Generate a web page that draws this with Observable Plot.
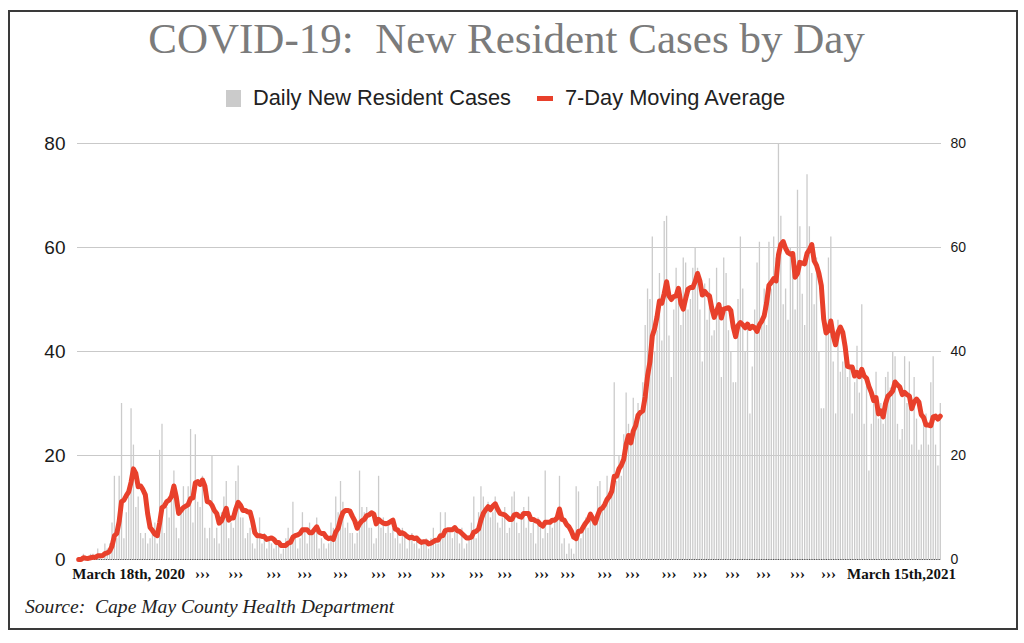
<!DOCTYPE html>
<html><head><meta charset="utf-8">
<script src="https://cdn.jsdelivr.net/npm/d3@7"></script>
<script src="https://cdn.jsdelivr.net/npm/@observablehq/plot@0.6"></script>
<style>
html,body{margin:0;padding:0;background:#fff;}
#wrap{position:relative;width:1024px;height:643px;overflow:hidden;background:#fff;}
#frame{position:absolute;left:8px;top:10px;width:1010px;height:620px;border:2px solid #3a3a3a;box-sizing:border-box;}
#title{position:absolute;left:0;top:14px;width:1013px;text-align:center;font-family:"Liberation Serif",serif;font-size:43px;color:#7b7b7b;white-space:pre;}
#legend{position:absolute;left:0;top:85px;width:1011px;display:flex;justify-content:center;align-items:center;font-family:"Liberation Sans",Arial,sans-serif;font-size:21.8px;color:#222;}
#legend .sw1{display:inline-block;width:15px;height:17px;background:#cbcbcb;margin-right:12px;}
#legend .sw2{display:inline-block;width:16px;height:5px;background:#e8402b;margin-left:26px;margin-right:12px;}
#chart{position:absolute;left:0;top:120px;}
#source{position:absolute;left:25px;top:596px;font-family:"Liberation Serif",serif;font-style:italic;font-size:19.6px;color:#222;white-space:pre;}
</style>
</head><body>
<div id="wrap">
  <div id="frame"></div>
  <div id="title">COVID-19:  New Resident Cases by Day</div>
  <div id="legend"><span class="sw1"></span><span id="l1"></span><span class="sw2"></span><span id="l2"></span></div>
  <div id="chart"></div>
  <div id="source">Source:  Cape May County Health Department</div>
</div>
<script>
// Daily new resident cases, March 18th 2020 (day 0) to March 15th 2021 (day 362)
const dailyCases = [
  0,0,1,0,0,1,1,0,2,1,
  0,3,2,3,7,16,4,16,30,4,
  9,12,29,22,10,12,5,4,5,3,
  4,6,7,3,21,26,5,10,8,12,
  17,6,4,9,14,10,14,25,7,24,
  11,10,16,6,4,6,20,4,6,3,
  9,12,15,4,7,6,15,18,8,8,
  4,5,6,3,2,4,8,3,5,2,
  4,3,2,4,3,1,2,4,6,3,
  11,5,2,4,9,6,3,7,5,6,
  8,2,4,3,2,3,7,6,12,9,
  15,11,6,7,5,5,3,5,17,10,
  9,10,6,6,3,4,16,6,8,5,
  7,5,6,4,5,3,6,5,2,4,
  5,3,4,2,3,3,4,2,4,6,
  4,3,9,4,9,5,6,4,6,5,
  3,6,2,3,4,7,12,4,9,14,
  12,9,11,8,9,12,7,6,8,10,
  5,6,12,13,7,5,9,10,6,12,
  5,7,3,8,6,4,17,5,7,6,
  8,9,16,3,4,1,3,2,1,14,
  13,4,7,8,6,9,8,7,14,15,
  10,11,16,12,14,34,15,20,16,24,
  32,26,24,31,27,30,28,34,45,52,
  50,62,40,44,55,42,65,66,43,35,
  48,56,52,45,58,57,48,50,56,60,
  56,48,38,53,46,54,43,44,56,47,
  35,58,55,44,40,34,34,50,62,52,
  40,45,28,37,48,57,61,45,52,45,
  61,52,62,58,80,66,49,52,46,60,
  59,48,71,64,51,45,74,64,55,49,
  58,40,29,29,45,58,62,38,28,46,
  36,38,39,35,37,28,34,41,32,49,
  26,34,17,26,30,36,27,30,26,35,
  36,33,40,39,26,23,25,39,30,38,
  22,35,27,21,22,26,28,22,34,39,
  22,18,30
];
const yTicks = [0, 20, 40, 60, 80];
const tickLabels = ["March 18th, 2020","›››","›››","›››","›››","›››","›››","›››","›››","›››","›››","›››","›››","›››","›››","›››","›››","›››","›››","›››","›››","March 15th,2021"];
const tickDays = [21, 52, 66, 82, 95, 110, 126, 137, 151, 167, 179, 194.5, 205.5, 221, 232.7, 248, 261, 274.7, 287.7, 302, 315, 345.7];
const seriesNames = ["Daily New Resident Cases", "7-Day Moving Average"];

document.getElementById("l1").textContent = seriesNames[0];
document.getElementById("l2").textContent = seriesNames[1];

const data = dailyCases.map((v, i) => ({i, v}));

const chart = Plot.plot({
  width: 1024, height: 480,
  marginTop: 23, marginBottom: 41, marginLeft: 77, marginRight: 83,
  x: {domain: [-0.5, dailyCases.length - 0.5], axis: null},
  y: {domain: [0, 80], axis: null},
  style: {background: "transparent", fontFamily: "Liberation Sans, Arial, sans-serif", color: "#1a1a1a"},
  marks: [
    Plot.gridY(yTicks, {stroke: "#c9c9c9", strokeOpacity: 1}),
    Plot.axisY(yTicks, {anchor: "left", tickSize: 0, tickPadding: 12, fontSize: 19, label: null}),
    Plot.axisY(yTicks, {anchor: "right", tickSize: 0, tickPadding: 9, fontSize: 14, label: null}),
    Plot.ruleX(data, {x: "i", y: "v", stroke: "#cbcbcb", strokeWidth: 1.3}),
    Plot.ruleY([0], {stroke: "#555", strokeDasharray: "1.2,1.2"}),
    Plot.lineY(data, Plot.windowY({k: 7, anchor: "end", reduce: "mean", strict: false},
      {x: "i", y: "v", stroke: "#e8402b", strokeWidth: 5, strokeLinejoin: "round", strokeLinecap: "round"})),
    Plot.text(tickLabels, {x: (d, i) => tickDays[i], text: d => d, frameAnchor: "bottom", dy: 19,
      fontFamily: "Liberation Serif, serif", fontWeight: "bold", fontSize: 15, fill: "#111"})
  ]
});
document.getElementById("chart").appendChild(chart);
</script>
</body></html>
